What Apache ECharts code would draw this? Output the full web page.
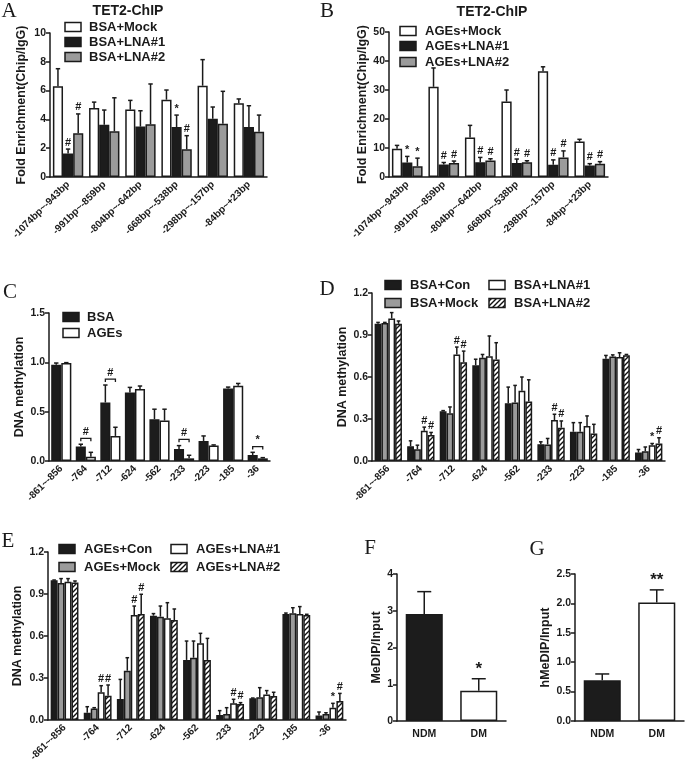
<!DOCTYPE html>
<html><head><meta charset="utf-8">
<script src="https://cdn.jsdelivr.net/npm/echarts@6/dist/echarts.min.js"></script>
<style>html,body{margin:0;padding:0;background:#fff}#c{width:685px;height:769px}</style>
</head><body><div id="c"></div>
<script>
// ---------- DATA ----------
const catsAB = ['-1074bp~-943bp','-991bp~-859bp','-804bp~-642bp','-668bp~-538bp','-298bp~-157bp','-84bp~+23bp'];
const catsCDE = ['-861~-856','-764','-712','-624','-562','-233','-223','-185','-36'];
const catsFG = ['NDM','DM'];

// Panel A
const aMock = [6.3, 4.79, 4.68, 5.37, 6.34, 5.12];
const aMockErr = [7.52, 5.2, 5.32, 6.04, 8.15, 5.42];
const aLNA1 = [1.64, 3.63, 3.5, 3.47, 4.05, 3.47];
const aLNA1Err = [1.94, 4.65, 4.6, 4.3, 4.86, 4.95];
const aLNA2 = [3.03, 3.17, 3.66, 1.92, 3.7, 3.15];
const aLNA2Err = [4.38, 5.5, 6.46, 2.87, 5.95, 4.3];
const aMarks = [['','','','','',''],['#','','','*','',''],['#','','','#','','']];

// Panel B
const bMock = [9.7, 31.1, 13.6, 26.0, 36.5, 12.2];
const bMockErr = [10.9, 37.6, 17.8, 30.0, 38.0, 13.0];
const bLNA1 = [5.0, 4.3, 5.1, 4.8, 4.2, 4.0];
const bLNA1Err = [7.1, 5.0, 6.75, 6.2, 5.9, 4.6];
const bLNA2 = [3.7, 4.8, 5.7, 5.1, 6.75, 4.6];
const bLNA2Err = [6.5, 5.5, 6.3, 5.6, 9.0, 5.3];
const bMarks = [['','','','','',''],['*','#','#','#','#','#'],['*','#','#','#','#','#']];

// Panel C
const cBSA = [0.976, 0.146, 0.593, 0.695, 0.424, 0.122, 0.203, 0.736, 0.061];
const cBSAErr = [0.993, 0.17, 0.77, 0.746, 0.525, 0.156, 0.254, 0.749, 0.088];
const cAGEs = [0.993, 0.044, 0.254, 0.729, 0.41, 0.027, 0.156, 0.763, 0.027];
const cAGEsErr = [0.997, 0.088, 0.342, 0.76, 0.525, 0.058, 0.163, 0.786, 0.034];
const cBrackets = [[1, 0.23, '#'], [2, 0.83, '#'], [5, 0.22, '#'], [8, 0.146, '*']];

// Panel D
const dCon = [0.98, 0.106, 0.355, 0.684, 0.413, 0.12, 0.209, 0.73, 0.06];
const dConErr = [0.99, 0.144, 0.36, 0.727, 0.528, 0.137, 0.274, 0.754, 0.082];
const dMock = [0.986, 0.084, 0.341, 0.737, 0.418, 0.118, 0.209, 0.746, 0.07];
const dMockErr = [0.99, 0.113, 0.386, 0.761, 0.54, 0.161, 0.274, 0.758, 0.1];
const dLNA1 = [1.018, 0.216, 0.761, 0.749, 0.502, 0.293, 0.25, 0.742, 0.113];
const dLNA1Err = [1.06, 0.242, 0.814, 0.893, 0.6, 0.334, 0.322, 0.773, 0.125];
const dLNA2 = [0.98, 0.185, 0.706, 0.725, 0.425, 0.238, 0.197, 0.756, 0.125];
const dLNA2Err = [1.0, 0.204, 0.785, 0.845, 0.58, 0.286, 0.262, 0.761, 0.166];
const dMarks = [['','','','','','','','',''],['','','','','','','','',''],
  ['','#','#','','','#','','','*'],['','#','#','','','#','','','#']];

// Panel E
const eCon = [0.998, 0.052, 0.15, 0.745, 0.429, 0.036, 0.155, 0.757, 0.033];
const eConErr = [1.0, 0.095, 0.29, 0.76, 0.564, 0.067, 0.157, 0.764, 0.057];
const eMock = [0.979, 0.083, 0.352, 0.738, 0.445, 0.043, 0.162, 0.762, 0.043];
const eMockErr = [1.01, 0.088, 0.445, 0.814, 0.564, 0.088, 0.231, 0.802, 0.052];
const eLNA1 = [0.988, 0.198, 0.75, 0.726, 0.548, 0.119, 0.183, 0.757, 0.088];
const eLNA1Err = [1.01, 0.245, 0.814, 0.838, 0.619, 0.148, 0.21, 0.81, 0.119];
const eLNA2 = [0.983, 0.174, 0.757, 0.714, 0.429, 0.114, 0.171, 0.75, 0.136];
const eLNA2Err = [0.993, 0.25, 0.898, 0.793, 0.583, 0.124, 0.198, 0.755, 0.19];
const eMarks = [['','','','','','','','',''],['','','','','','','','',''],
  ['','#','#','','','#','','','*'],['','#','#','','','#','','','#']];

// Panels F, G
const fVals = [2.91, 0.82];
const fErr = [3.52, 1.15];
const fMarks = ['', '*'];
const gVals = [0.695, 2.016];
const gErr = [0.80, 2.23];
const gMarks = ['', '**'];

// ---------- STYLE ----------
const FONT = '"Liberation Sans", Arial, sans-serif';
const SERIF = '"Liberation Serif", "Times New Roman", serif';
const INK = '#1a1a1a';
const BLACK = '#1c1c1c', GRAY = '#9b9b9b', WHITE = '#ffffff';

function makeHatch() {
  const c = document.createElement('canvas');
  c.width = 5; c.height = 5;
  const g = c.getContext('2d');
  g.fillStyle = '#fff'; g.fillRect(0, 0, 5, 5);
  g.strokeStyle = '#111'; g.lineWidth = 1.4;
  g.beginPath();
  g.moveTo(-1, 6); g.lineTo(6, -1);
  g.moveTo(-1, 1); g.lineTo(1, -1);
  g.moveTo(4, 6); g.lineTo(6, 4);
  g.stroke();
  return c;
}
const HATCH = { image: makeHatch(), repeat: 'repeat' };
const FILLS = { black: BLACK, gray: GRAY, white: WHITE, hatch: HATCH };

const option = {
  animation: false,
  backgroundColor: '#fff',
  grid: [], xAxis: [], yAxis: [], series: [], graphic: []
};

function addPanel(cfg) {
  const idx = option.grid.length;
  option.grid.push({ left: cfg.rect[0], top: cfg.rect[1], width: cfg.rect[2], height: cfg.rect[3], containLabel: false });
  option.xAxis.push({
    type: 'category', gridIndex: idx, data: cfg.cats,
    axisLine: { lineStyle: { color: INK, width: 1.5 } },
    axisTick: { alignWithLabel: true, length: 4, lineStyle: { color: INK, width: 1.5 } },
    axisLabel: { rotate: cfg.rotate, margin: cfg.xMargin || 6, color: INK, fontFamily: FONT, fontWeight: 'bold', fontSize: cfg.xFont || 10, interval: 0 }
  });
  option.yAxis.push({
    type: 'value', gridIndex: idx, min: cfg.yMin, max: cfg.yMax, interval: cfg.yInt,
    name: cfg.yName, nameLocation: 'middle', nameGap: cfg.nameGap, nameRotate: 90,
    nameTextStyle: { color: INK, fontFamily: FONT, fontWeight: 'bold', fontSize: cfg.nameFont || 12.5 },
    splitLine: { show: false },
    axisLine: { show: true, lineStyle: { color: INK, width: 1.5 } },
    axisTick: { show: true, length: 4, lineStyle: { color: INK, width: 1.5 } },
    axisLabel: { margin: 4, color: INK, fontFamily: FONT, fontWeight: 'bold', fontSize: cfg.yFont || 10.5,
      formatter: v => cfg.yDec ? v.toFixed(cfg.yDec) : String(v) }
  });
  const n = cfg.series.length;
  const gapFrac = cfg.gap;
  cfg.series.forEach((s) => {
    const colors = s.kinds ? s.kinds.map(k => FILLS[k]) : null;
    option.series.push({
      type: 'bar', name: s.name, xAxisIndex: idx, yAxisIndex: idx,
      data: colors ? s.data.map((v, i) => ({ value: v, itemStyle: { color: colors[i] } })) : s.data,
      barGap: '0%', barCategoryGap: (gapFrac * 100) + '%',
      itemStyle: { color: FILLS[s.kind || 'black'], borderColor: INK, borderWidth: 1.5 },
      z: 2
    });
  });
  const errData = [];
  cfg.series.forEach((s, si) => s.data.forEach((v, ci) => errData.push([ci, si, v, s.err[ci]])));
  option.series.push({
    type: 'custom', xAxisIndex: idx, yAxisIndex: idx, z: 5, clip: false,
    data: errData,
    renderItem: (params, api) => {
      const ci = api.value(0), si = api.value(1), v = api.value(2), e = api.value(3);
      const band = api.size([1, 0])[0];
      const groupW = band * (1 - gapFrac);
      const bw = groupW / n;
      const cx = api.coord([ci, 0])[0] - groupW / 2 + bw * (si + 0.5);
      const yv = api.coord([ci, v])[1];
      const ye = api.coord([ci, e])[1];
      const cap = cfg.cap || 2.2;
      const ls = { stroke: INK, lineWidth: 1.5 };
      const children = [
        { type: 'line', shape: { x1: cx, y1: yv, x2: cx, y2: ye }, style: ls },
        { type: 'line', shape: { x1: cx - cap, y1: ye, x2: cx + cap, y2: ye }, style: ls }
      ];
      const m = cfg.series[si].marks ? cfg.series[si].marks[ci] : '';
      if (m) {
        children.push({ type: 'text', x: cx, y: ye - 1, style: { text: m, fill: INK,
          font: 'bold ' + (cfg.markFont || 11) + 'px ' + FONT, align: 'center', verticalAlign: 'bottom' } });
      }
      return { type: 'group', children };
    }
  });
  if (cfg.brackets) {
    option.series.push({
      type: 'custom', xAxisIndex: idx, yAxisIndex: idx, z: 5, clip: false,
      data: cfg.brackets.map(b => [b[0], b[1]]),
      renderItem: (params, api) => {
        const ci = api.value(0), y = api.value(1);
        const band = api.size([1, 0])[0];
        const groupW = band * (1 - gapFrac);
        const bw = groupW / n;
        const c0 = api.coord([ci, 0])[0] - groupW / 2 + bw * 0.5;
        const c1 = c0 + bw;
        const py = api.coord([ci, y])[1];
        const ls = { stroke: INK, lineWidth: 1.3, fill: null };
        return { type: 'group', children: [
          { type: 'polyline', shape: { points: [[c0, py + 3], [c0, py], [c1, py], [c1, py + 3]] }, style: ls },
          { type: 'text', x: (c0 + c1) / 2, y: py - 1, style: { text: cfg.brackets[params.dataIndex][2], fill: INK,
            font: 'bold 11px ' + FONT, align: 'center', verticalAlign: 'bottom' } }
        ] };
      }
    });
  }
}

addPanel({ rect: [50, 33, 217, 144], cats: catsAB, rotate: 45, yMin: 0, yMax: 10, yInt: 2,
  yName: 'Fold Enrichment(Chip/IgG)', nameGap: 22, gap: 0.16,
  series: [
    { name: 'BSA+Mock', kind: 'white', data: aMock, err: aMockErr, marks: aMarks[0] },
    { name: 'BSA+LNA#1', kind: 'black', data: aLNA1, err: aLNA1Err, marks: aMarks[1] },
    { name: 'BSA+LNA#2', kind: 'gray', data: aLNA2, err: aLNA2Err, marks: aMarks[2] }
  ] });
addPanel({ rect: [389, 32, 219, 145], cats: catsAB, rotate: 45, yMin: 0, yMax: 50, yInt: 10,
  yName: 'Fold Enrichment(Chip/IgG)', nameGap: 18, gap: 0.16,
  series: [
    { name: 'AGEs+Mock', kind: 'white', data: bMock, err: bMockErr, marks: bMarks[0] },
    { name: 'AGEs+LNA#1', kind: 'black', data: bLNA1, err: bLNA1Err, marks: bMarks[1] },
    { name: 'AGEs+LNA#2', kind: 'gray', data: bLNA2, err: bLNA2Err, marks: bMarks[2] }
  ] });
addPanel({ rect: [49, 313, 221, 148], cats: catsCDE, rotate: 45, yMin: 0, yMax: 1.5, yInt: 0.5, yDec: 1,
  yName: 'DNA methylation', nameGap: 21, gap: 0.18, brackets: cBrackets,
  series: [
    { name: 'BSA', kind: 'black', data: cBSA, err: cBSAErr },
    { name: 'AGEs', kind: 'white', data: cAGEs, err: cAGEsErr }
  ] });
addPanel({ rect: [372, 293, 293, 168], cats: catsCDE, rotate: 45, yMin: 0, yMax: 1.2, yInt: 0.3, yDec: 1,
  yName: 'DNA methylation', nameGap: 23, gap: 0.16, cap: 1.8,
  series: [
    { name: 'BSA+Con', kind: 'black', data: dCon, err: dConErr, marks: dMarks[0] },
    { name: 'BSA+Mock', kind: 'gray', data: dMock, err: dMockErr, marks: dMarks[1] },
    { name: 'BSA+LNA#1', kind: 'white', data: dLNA1, err: dLNA1Err, marks: dMarks[2] },
    { name: 'BSA+LNA#2', kind: 'hatch', data: dLNA2, err: dLNA2Err, marks: dMarks[3] }
  ] });
addPanel({ rect: [48, 552, 298, 168], cats: catsCDE, rotate: 45, yMin: 0, yMax: 1.2, yInt: 0.3, yDec: 1,
  yName: 'DNA methylation', nameGap: 24, gap: 0.16, cap: 1.8,
  series: [
    { name: 'AGEs+Con', kind: 'black', data: eCon, err: eConErr, marks: eMarks[0] },
    { name: 'AGEs+Mock', kind: 'gray', data: eMock, err: eMockErr, marks: eMarks[1] },
    { name: 'AGEs+LNA#1', kind: 'white', data: eLNA1, err: eLNA1Err, marks: eMarks[2] },
    { name: 'AGEs+LNA#2', kind: 'hatch', data: eLNA2, err: eLNA2Err, marks: eMarks[3] }
  ] });
addPanel({ rect: [397, 574, 109, 147], cats: catsFG, rotate: 0, xMargin: 8, xFont: 10.5, yMin: 0, yMax: 4, yInt: 1,
  yName: 'MeDIP/Input', nameGap: 11, gap: 0.32, cap: 7, markFont: 17,
  series: [
    { name: 'MeDIP', kinds: ['black', 'white'], data: fVals, err: fErr, marks: fMarks }
  ] });
addPanel({ rect: [575, 574, 109, 147], cats: catsFG, rotate: 0, xMargin: 8, xFont: 10.5, yMin: 0, yMax: 2.5, yInt: 0.5, yDec: 1,
  yName: 'hMeDIP/Input', nameGap: 21, gap: 0.32, cap: 7, markFont: 17,
  series: [
    { name: 'hMeDIP', kinds: ['black', 'white'], data: gVals, err: gErr, marks: gMarks }
  ] });

// ---------- TEXT / LEGENDS ----------
function txt(x, y, t, font, align) {
  return { type: 'text', x, y, style: { text: t, font, fill: INK, align: align || 'left', verticalAlign: 'middle' } };
}
function legendItem(x, y, label, kind, tx) {
  return [
    { type: 'rect', shape: { x: x, y: y - 4.5, width: 16, height: 9 },
      style: { fill: FILLS[kind], stroke: INK, lineWidth: 1.5 } },
    txt(tx, y, label, 'bold 13px ' + FONT)
  ];
}
const G = option.graphic;
// panel letters
[['A', 9, 11], ['B', 327, 11], ['C', 10, 292], ['D', 327, 289], ['E', 8, 541], ['F', 370, 548], ['G', 537, 549]]
  .forEach(l => G.push(txt(l[1], l[2], l[0], '21px ' + SERIF, 'center')));
G.push(txt(128, 11, 'TET2-ChIP', 'bold 14px ' + FONT, 'center'));
G.push(txt(492, 12, 'TET2-ChIP', 'bold 14px ' + FONT, 'center'));
// legends
G.push(...legendItem(65, 27, 'BSA+Mock', 'white', 89));
G.push(...legendItem(65, 42, 'BSA+LNA#1', 'black', 89));
G.push(...legendItem(65, 57, 'BSA+LNA#2', 'gray', 89));
G.push(...legendItem(400, 31, 'AGEs+Mock', 'white', 425));
G.push(...legendItem(400, 46, 'AGEs+LNA#1', 'black', 425));
G.push(...legendItem(400, 62, 'AGEs+LNA#2', 'gray', 425));
G.push(...legendItem(63, 317, 'BSA', 'black', 87));
G.push(...legendItem(63, 333, 'AGEs', 'white', 87));
G.push(...legendItem(385, 285, 'BSA+Con', 'black', 410));
G.push(...legendItem(385, 303, 'BSA+Mock', 'gray', 410));
G.push(...legendItem(489, 285, 'BSA+LNA#1', 'white', 514));
G.push(...legendItem(489, 303, 'BSA+LNA#2', 'hatch', 514));
G.push(...legendItem(59, 549, 'AGEs+Con', 'black', 84));
G.push(...legendItem(59, 567, 'AGEs+Mock', 'gray', 84));
G.push(...legendItem(171, 549, 'AGEs+LNA#1', 'white', 196));
G.push(...legendItem(171, 567, 'AGEs+LNA#2', 'hatch', 196));

const chart = echarts.init(document.getElementById('c'), null, { renderer: 'canvas' });
chart.setOption(option);
</script>
</body></html>
